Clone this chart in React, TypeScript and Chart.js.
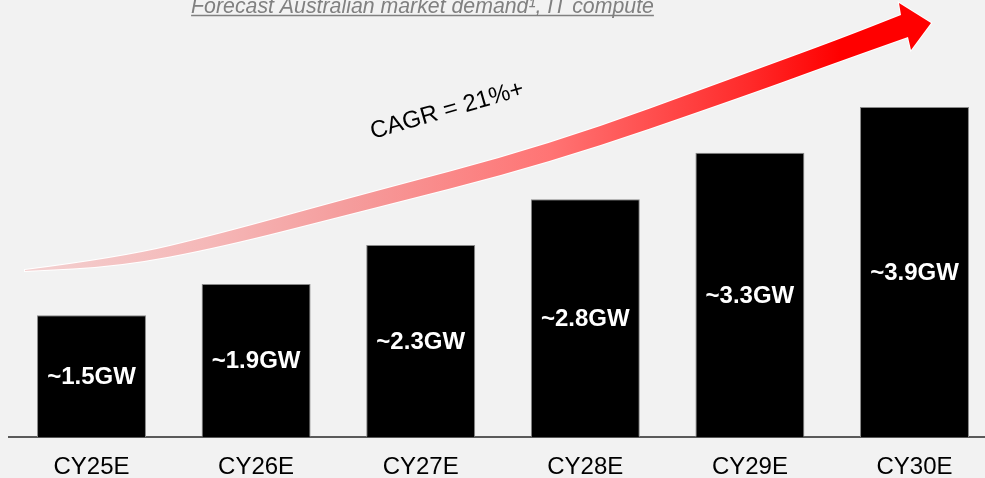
import React, { useEffect, useRef } from "react";
import { Chart, registerables } from "chart.js";

Chart.register(...registerables);

const categories = ["CY25E", "CY26E", "CY27E", "CY28E", "CY29E", "CY30E"];
const demandGW = [1.44, 1.81, 2.27, 2.81, 3.36, 3.9];
const barLabels = ["~1.5GW", "~1.9GW", "~2.3GW", "~2.8GW", "~3.3GW", "~3.9GW"];
const titleText = "Forecast Australian market demand\u00B9, IT compute";
const cagrText = "CAGR = 21%+";

const FONT = "'Liberation Sans', Arial, Helvetica, sans-serif";

type P = [number, number];

function smoothThrough(ctx: CanvasRenderingContext2D, pts: P[]) {
  for (let i = 1; i < pts.length - 1; i++) {
    const mx = (pts[i][0] + pts[i + 1][0]) / 2;
    const my = (pts[i][1] + pts[i + 1][1]) / 2;
    ctx.quadraticCurveTo(pts[i][0], pts[i][1], mx, my);
  }
  const last = pts[pts.length - 1];
  ctx.lineTo(last[0], last[1]);
}

const decorPlugin = {
  id: "decor",
  beforeDatasetsDraw(chart: any) {
    const ctx: CanvasRenderingContext2D = chart.ctx;
    ctx.save();

    // Title
    ctx.font = `italic 21.3px ${FONT}`;
    ctx.fillStyle = "#808080";
    ctx.textAlign = "center";
    ctx.textBaseline = "alphabetic";
    const tx = 422.5;
    const ty = 13;
    ctx.fillText(titleText, tx, ty);
    const w = ctx.measureText(titleText).width;
    ctx.strokeStyle = "#808080";
    ctx.lineWidth = 1.5;
    ctx.beginPath();
    ctx.moveTo(tx - w / 2, ty + 2.5);
    ctx.lineTo(tx + w / 2, ty + 2.5);
    ctx.stroke();

    // Curved arrow
    const top: P[] = [[25, 270], [120, 258], [220, 234], [350, 198], [550, 145], [750, 72], [840, 39], [901, 15]];
    const bottom: P[] = [[908, 37], [840, 61], [750, 94], [550, 163], [350, 214], [220, 247], [120, 266], [25, 271]];
    ctx.beginPath();
    ctx.moveTo(top[0][0], top[0][1]);
    smoothThrough(ctx, top);
    ctx.lineTo(899, 3);
    ctx.lineTo(931, 23);
    ctx.lineTo(911, 50);
    ctx.lineTo(bottom[0][0], bottom[0][1]);
    smoothThrough(ctx, bottom);
    ctx.closePath();
    const grad = ctx.createLinearGradient(25, 0, 930, 0);
    grad.addColorStop(0, "#f3d0d0");
    grad.addColorStop(0.2, "#f5b8b8");
    grad.addColorStop(0.36, "#f59c9c");
    grad.addColorStop(0.58, "#ff7474");
    grad.addColorStop(0.8, "#ff2a2a");
    grad.addColorStop(0.9, "#ff0000");
    grad.addColorStop(1, "#ff0000");
    ctx.fillStyle = grad;
    ctx.strokeStyle = "#ffffff";
    ctx.lineWidth = 2;
    ctx.lineJoin = "miter";
    ctx.stroke();
    ctx.fill();

    // CAGR label
    ctx.save();
    ctx.translate(449, 117);
    ctx.rotate((-16 * Math.PI) / 180);
    ctx.font = `24px ${FONT}`;
    ctx.fillStyle = "#000000";
    ctx.textAlign = "center";
    ctx.textBaseline = "alphabetic";
    ctx.fillText(cagrText, 0, 0);
    ctx.restore();

    ctx.restore();
  },
  afterDatasetsDraw(chart: any) {
    const ctx: CanvasRenderingContext2D = chart.ctx;
    const meta = chart.getDatasetMeta(0);
    ctx.save();
    ctx.font = `bold 24px ${FONT}`;
    ctx.fillStyle = "#ffffff";
    ctx.textAlign = "center";
    ctx.textBaseline = "middle";
    meta.data.forEach((bar: any, i: number) => {
      const y = (bar.y + bar.base) / 2;
      ctx.fillText(barLabels[i], bar.x, y + 1);
    });
    ctx.restore();
  },
};

export default function App() {
  const canvasRef = useRef<HTMLCanvasElement | null>(null);

  useEffect(() => {
    document.body.style.margin = "0";
    document.body.style.background = "#f2f2f2";
    const canvas = canvasRef.current;
    if (!canvas) return;
    const chart = new Chart(canvas, {
      type: "bar",
      data: {
        labels: categories,
        datasets: [
          {
            data: demandGW,
            backgroundColor: "#000000",
            borderColor: "#8a8a8a",
            borderWidth: 1,
            barPercentage: 0.662,
            categoryPercentage: 1,
          },
        ],
      },
      options: {
        responsive: false,
        animation: false,
        devicePixelRatio: 1,
        layout: { padding: { left: 9.2, right: 3.2, top: 14, bottom: 0 } },
        plugins: {
          legend: { display: false },
          tooltip: { enabled: false },
          title: { display: false },
        },
        scales: {
          x: {
            grid: { display: false, drawTicks: false },
            border: { display: true, color: "#5a5a5a", width: 2 },
            ticks: {
              color: "#000000",
              font: { family: FONT, size: 24 },
              padding: 16,
              maxRotation: 0,
              autoSkip: false,
            },
          },
          y: {
            display: false,
            min: 0,
            max: 5,
          },
        },
      },
      plugins: [decorPlugin],
    });
    return () => chart.destroy();
  }, []);

  return (
    <div
      style={{
        position: "fixed",
        left: 0,
        top: 0,
        width: 985,
        height: 478,
        overflow: "hidden",
        background: "#f2f2f2",
      }}
    >
      <canvas ref={canvasRef} width={1000} height={498} style={{ display: "block" }} />
    </div>
  );
}
